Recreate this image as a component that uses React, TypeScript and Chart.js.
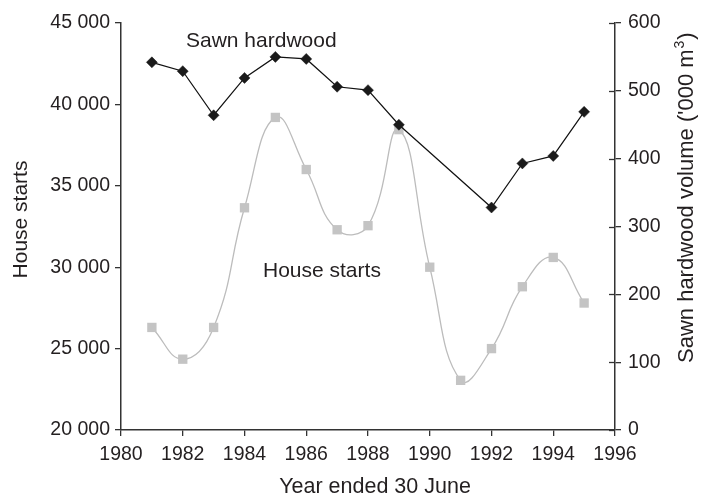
import React, { useEffect, useRef } from "react";
import { Chart, registerables } from "chart.js";

Chart.register(...registerables);

const years = [1981, 1982, 1983, 1984, 1985, 1986, 1987, 1988, 1989, 1990, 1991, 1992, 1993, 1994, 1995];
const houseStarts = [26300, 24350, 26300, 33650, 39200, 36000, 32300, 32550, 38450, 30000, 23050, 25000, 28800, 30600, 27800];
const sawnYears = [1981, 1982, 1983, 1984, 1985, 1986, 1987, 1988, 1989, 1992, 1993, 1994, 1995];
const sawnHardwood = [542, 529, 464, 519, 550, 547, 506, 501, 450, 328, 393, 404, 469];

const xTicks = { min: 1980, max: 1996, step: 2 };
const leftTicks = { min: 20000, max: 45000, step: 5000 };
const rightTicks = { min: 0, max: 600, step: 100 };

const FONT = '"Liberation Sans", Arial, sans-serif';
const TEXT = "#231f20";
const AXIS = "#333";

const fmtSpace = (v: number) => {
  const s = String(Math.round(v));
  return s.replace(/\B(?=(\d{3})+(?!\d))/g, " ");
};

const annotations = {
  id: "annotations",
  afterDraw(chart: any) {
    const ctx = chart.ctx;
    const area = chart.chartArea;
    const y1 = chart.scales.y1;
    ctx.save();
    // cross ticks on the right axis (inner half)
    ctx.strokeStyle = AXIS;
    ctx.lineWidth = 1.3;
    y1.ticks.forEach((t: any) => {
      const py = Math.round(y1.getPixelForValue(t.value)) + 0.5;
      ctx.beginPath();
      ctx.moveTo(area.right - 6, py);
      ctx.lineTo(area.right, py);
      ctx.stroke();
    });

    ctx.fillStyle = TEXT;
    ctx.font = `21px ${FONT}`;
    ctx.textBaseline = "alphabetic";
    ctx.textAlign = "left";
    ctx.fillText("Sawn hardwood", area.left + 65, area.top + 24);
    ctx.fillText("House starts", area.left + 142, area.top + 254);

    // bottom title
    ctx.font = `21.5px ${FONT}`;
    ctx.textAlign = "center";
    ctx.fillText("Year ended 30 June", (area.left + area.right) / 2 + 7, chart.height - 2);

    // left title
    ctx.save();
    ctx.font = `21px ${FONT}`;
    ctx.translate(21, (area.top + area.bottom) / 2 - 7);
    ctx.rotate(-Math.PI / 2);
    ctx.textBaseline = "middle";
    ctx.textAlign = "center";
    ctx.fillText("House starts", 0, 0);
    ctx.restore();

    // right title
    ctx.save();
    ctx.translate(area.right + 78, area.bottom - 67);
    ctx.rotate(-Math.PI / 2);
    ctx.textAlign = "left";
    ctx.textBaseline = "alphabetic";
    const main = "Sawn hardwood volume ('000 m";
    ctx.font = `22px ${FONT}`;
    ctx.fillText(main, 0, 0);
    let w = ctx.measureText(main).width;
    ctx.font = `14px ${FONT}`;
    ctx.fillText("3", w + 1, -9);
    w += ctx.measureText("3").width + 2;
    ctx.font = `22px ${FONT}`;
    ctx.fillText(")", w, 0);
    ctx.restore();

    ctx.restore();
  },
};

export default function App() {
  const ref = useRef<HTMLCanvasElement | null>(null);
  useEffect(() => {
    if (!ref.current) return;
    const chart = new Chart(ref.current, {
      type: "line",
      data: {
        datasets: [
          {
            label: "Sawn hardwood",
            data: sawnYears.map((x, i) => ({ x, y: sawnHardwood[i] })),
            yAxisID: "y1",
            borderColor: "#111",
            borderWidth: 1.2,
            tension: 0,
            pointStyle: "rectRot",
            pointRadius: 5.5,
            pointBackgroundColor: "#1a1a1a",
            pointBorderColor: "#1a1a1a",
            pointBorderWidth: 0.5,
          },
          {
            label: "House starts",
            data: years.map((x, i) => ({ x, y: houseStarts[i] })),
            yAxisID: "y",
            borderColor: "#bcbcbc",
            borderWidth: 1.3,
            tension: 0.45,
            pointStyle: "rect",
            pointRadius: 6.6,
            pointBackgroundColor: "#c4c4c4",
            pointBorderColor: "#c4c4c4",
            pointBorderWidth: 0,
          },
        ],
      },
      options: {
        animation: false,
        responsive: true,
        maintainAspectRatio: false,
        layout: { padding: { top: 23, left: 0, right: 0, bottom: 0 } },
        plugins: { legend: { display: false }, tooltip: { enabled: false } },
        scales: {
          x: {
            type: "linear",
            min: xTicks.min,
            max: xTicks.max,
            afterFit: (s: any) => { s.height = 65; },
            ticks: {
              stepSize: xTicks.step,
              callback: (v: any) => String(v),
              font: { size: 19.5, family: FONT },
              color: TEXT,
              padding: 7,
              maxRotation: 0,
            },
            grid: { drawOnChartArea: false, drawTicks: true, tickLength: 6, color: AXIS, lineWidth: 1.3 },
            border: { display: true, color: AXIS, width: 1.5 },
          },
          y: {
            type: "linear",
            position: "left",
            min: leftTicks.min,
            max: leftTicks.max,
            afterFit: (s: any) => { s.width = 121; },
            ticks: {
              stepSize: leftTicks.step,
              callback: (v: any) => fmtSpace(Number(v)),
              font: { size: 19.5, family: FONT },
              color: TEXT,
              padding: 5,
            },
            grid: { drawOnChartArea: false, drawTicks: true, tickLength: 6, color: AXIS, lineWidth: 1.3 },
            border: { display: true, color: AXIS, width: 1.5 },
          },
          y1: {
            type: "linear",
            position: "right",
            min: rightTicks.min,
            max: rightTicks.max,
            afterFit: (s: any) => { s.width = 92; },
            ticks: {
              stepSize: rightTicks.step,
              callback: (v: any) => String(v),
              font: { size: 19.5, family: FONT },
              color: TEXT,
              padding: 7,
            },
            grid: { drawOnChartArea: false, drawTicks: true, tickLength: 6, color: AXIS, lineWidth: 1.3 },
            border: { display: true, color: AXIS, width: 1.5 },
          },
        },
      },
      plugins: [annotations],
    } as any);
    return () => chart.destroy();
  }, []);
  return (
    <div style={{ position: "fixed", left: 0, top: 0, width: 707, height: 495, background: "#fff" }}>
      <canvas ref={ref} />
    </div>
  );
}
